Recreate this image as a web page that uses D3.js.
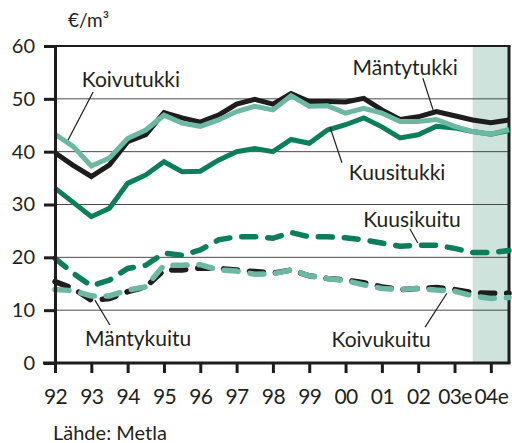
<!DOCTYPE html>
<html>
<head>
<meta charset="utf-8">
<script src="https://cdn.jsdelivr.net/npm/d3@7"></script>
<style>
    body { margin: 0; background: #fff; }
    text { font-family: Lato, "Open Sans", sans-serif; fill: #231f20; }
</style>
</head>
<body>
<svg id="chart" width="512" height="443"></svg>
<script>
// half-year periods, 1992 .. 2004 second half
const periods = [1992, 1992.5, 1993, 1993.5, 1994, 1994.5, 1995, 1995.5, 1996, 1996.5,
    1997, 1997.5, 1998, 1998.5, 1999, 1999.5, 2000, 2000.5, 2001, 2001.5,
    2002, 2002.5, 2003, 2003.5, 2004, 2004.5];

const yearTicks = [1992, 1993, 1994, 1995, 1996, 1997, 1998, 1999, 2000, 2001, 2002, 2003, 2004];
const yearLabels = ['92', '93', '94', '95', '96', '97', '98', '99', '00', '01', '02', '03e', '04e'];
const valueTicks = [0, 10, 20, 30, 40, 50, 60];

const mantytukki = [39.8, 37.4, 35.3, 37.5, 41.9, 43.2, 47.4, 46.4, 45.6, 46.9,
    49.0, 49.9, 49.0, 51.0, 49.5, 49.5, 49.4, 50.1, 47.9, 46.1,
    46.6, 47.6, 46.8, 46.0, 45.5, 46.0];
const koivutukki = [43.3, 41.0, 37.3, 38.8, 42.5, 44.1, 46.9, 45.4, 44.8, 46.0,
    47.6, 48.6, 47.9, 50.6, 48.6, 48.7, 47.3, 48.2, 47.3, 45.7,
    45.7, 46.1, 44.8, 43.8, 43.3, 44.2];
const kuusitukki = [33.1, 30.4, 27.7, 29.3, 34.0, 35.6, 38.1, 36.2, 36.3, 38.4,
    40.0, 40.6, 40.0, 42.3, 41.6, 44.1, 45.1, 46.4, 44.7, 42.6,
    43.2, 44.8, 44.5, 43.8, 43.3, 44.0];
const kuusikuitu = [19.8, 17.0, 14.6, 15.7, 17.9, 18.5, 20.8, 20.4, 21.4, 23.3,
    23.9, 23.9, 23.6, 24.7, 23.9, 23.9, 23.7, 23.3, 22.7, 22.1,
    22.3, 22.3, 21.7, 20.9, 20.9, 21.3];
const mantykuitu = [15.4, 14.1, 11.9, 12.2, 13.5, 14.4, 17.6, 17.6, 18.0, 17.9,
    17.6, 17.3, 17.0, 17.6, 16.5, 16.0, 15.7, 15.2, 14.4, 13.9,
    14.1, 14.3, 13.9, 13.3, 13.2, 13.2];
const koivukuitu = [13.9, 13.7, 12.7, 12.7, 13.8, 14.4, 18.5, 18.5, 18.6, 17.6,
    17.4, 16.8, 16.9, 17.6, 16.5, 16.0, 15.6, 14.8, 14.1, 13.9,
    14.1, 13.8, 13.6, 12.7, 12.2, 12.4];

const forecastBand = [2003.5, 2004.5];

const colBlack = '#1e1c1c';
const colGreen = '#0b7f5c';
const colTeal = '#6cb8a2';

const series = [
    { name: 'Kuusitukki', values: kuusitukki, color: colGreen, dashed: false },
    { name: 'Mäntytukki', values: mantytukki, color: colBlack, dashed: false },
    { name: 'Koivutukki', values: koivutukki, color: colTeal, dashed: false },
    { name: 'Kuusikuitu', values: kuusikuitu, color: colGreen, dashed: true },
    { name: 'Mäntykuitu', values: mantykuitu, color: colBlack, dashed: true },
    { name: 'Koivukuitu', values: koivukuitu, color: colTeal, dashed: true }
];

// label text position and leader line, in data units
const labels = [
    { text: 'Koivutukki', x: 1994.09, y: 52.2, from: [1993.05, 51.3], to: [1992.36, 42.2] },
    { text: 'Mäntytukki', x: 2001.64, y: 54.5, from: [2002.13, 53.9], to: [2002.41, 47.9] },
    { text: 'Kuusitukki', x: 2001.42, y: 34.6, from: [1999.57, 44.7], to: [1999.9, 37.9] },
    { text: 'Kuusikuitu', x: 2001.83, y: 25.7, from: [2001.77, 25.4], to: [2001.99, 22.7] },
    { text: 'Koivukuitu', x: 2000.98, y: 3.0, from: [2002.19, 6.8], to: [2002.79, 13.2] },
    { text: 'Mäntykuitu', x: 1994.29, y: 3.2, from: [1993.51, 7.2], to: [1993.1, 11.9] }
];

const svg = d3.select('#chart');
const plotLeft = 55, plotRight = 509, plotTop = 46, plotBottom = 363;

const x = d3.scaleLinear().domain([1992, 2004.5]).range([plotLeft, plotRight]);
const y = d3.scaleLinear().domain([0, 60]).range([plotBottom, plotTop]);

// forecast shading
svg.append('rect')
    .attr('x', x(forecastBand[0]))
    .attr('y', plotTop)
    .attr('width', x(forecastBand[1]) - x(forecastBand[0]))
    .attr('height', plotBottom - plotTop)
    .attr('fill', '#cde3dc');

// grid lines
svg.append('g')
    .selectAll('line')
    .data(valueTicks.filter(d => d > 0 && d < 60))
    .enter()
    .append('line')
    .attr('x1', plotLeft)
    .attr('x2', plotRight)
    .attr('y1', d => y(d))
    .attr('y2', d => y(d))
    .attr('stroke', '#4a4a4a')
    .attr('stroke-width', 1);

// top and right frame
svg.append('line')
    .attr('x1', plotLeft).attr('x2', plotRight + 1.5)
    .attr('y1', y(60)).attr('y2', y(60))
    .attr('stroke', colBlack).attr('stroke-width', 2);
svg.append('line')
    .attr('x1', plotRight).attr('x2', plotRight)
    .attr('y1', y(60)).attr('y2', plotBottom)
    .attr('stroke', colBlack).attr('stroke-width', 3);

// data lines
const line = d3.line()
    .x((d, i) => x(periods[i]))
    .y(d => y(d));

svg.append('g')
    .selectAll('path')
    .data(series)
    .enter()
    .append('path')
    .attr('d', d => line(d.values))
    .attr('fill', 'none')
    .attr('stroke', d => d.color)
    .attr('stroke-width', d => d.dashed ? 5.5 : 5)
    .attr('stroke-linejoin', 'miter')
    .attr('stroke-linecap', d => d.dashed ? 'round' : 'butt')
    .attr('stroke-dasharray', d => d.dashed ? '14,12' : null);

// y axis
const yAxis = svg.append('g')
    .attr('transform', `translate(${plotLeft},0)`)
    .call(d3.axisLeft(y).tickValues(valueTicks).tickSize(11).tickPadding(9));
yAxis.select('.domain').attr('stroke', colBlack).attr('stroke-width', 3);
yAxis.selectAll('.tick line').attr('stroke', colBlack).attr('stroke-width', 3);
yAxis.selectAll('.tick text')
    .style('font-size', '20px')
    .style('font-family', 'Lato, sans-serif')
    .attr('fill', '#231f20');

// x axis
const xAxis = svg.append('g')
    .attr('transform', `translate(0,${plotBottom})`)
    .call(d3.axisBottom(x).tickValues(yearTicks)
        .tickFormat((d, i) => yearLabels[i]).tickSize(10).tickPadding(16));
xAxis.select('.domain').attr('stroke', colBlack).attr('stroke-width', 3)
    .attr('d', `M${plotLeft - 12},0H${plotRight + 1.5}`);
xAxis.selectAll('.tick line').attr('stroke', colBlack).attr('stroke-width', 3);
xAxis.selectAll('.tick text')
    .style('font-size', '21px')
    .style('font-family', 'Lato, sans-serif')
    .style('letter-spacing', '-0.6px')
    .attr('fill', '#231f20');

// annotations
const ann = svg.append('g');
ann.selectAll('line')
    .data(labels)
    .enter()
    .append('line')
    .attr('x1', d => x(d.from[0]))
    .attr('y1', d => y(d.from[1]))
    .attr('x2', d => x(d.to[0]))
    .attr('y2', d => y(d.to[1]))
    .attr('stroke', colBlack)
    .attr('stroke-width', 1.2);
ann.selectAll('text')
    .data(labels)
    .enter()
    .append('text')
    .attr('x', d => x(d.x))
    .attr('y', d => y(d.y))
    .attr('text-anchor', 'middle')
    .style('font-size', '21px')
    .text(d => d.text);

// unit and source
svg.append('text')
    .attr('x', 68).attr('y', 27)
    .style('font-size', '19px')
    .text('€/m³');
svg.append('text')
    .attr('x', 53).attr('y', 440)
    .style('font-size', '20px')
    .text('Lähde: Metla');
</script>
</body>
</html>
